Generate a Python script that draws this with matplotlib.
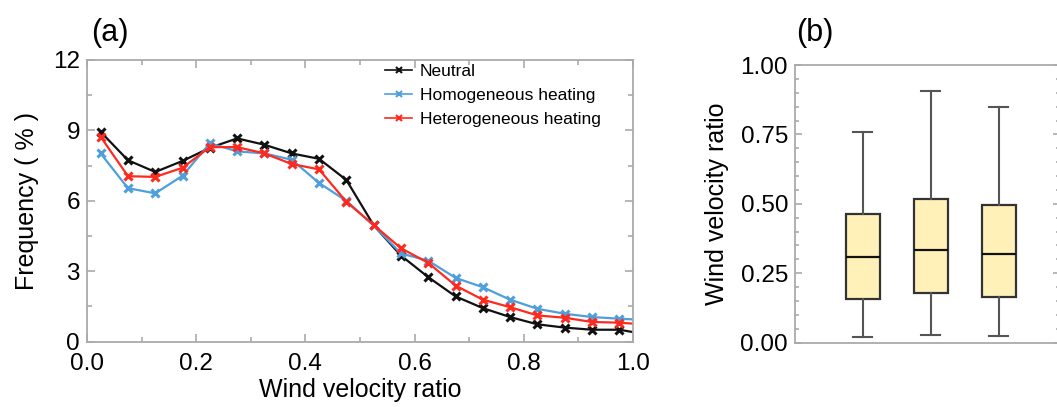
import matplotlib
matplotlib.use("Agg")
import matplotlib.pyplot as plt
from matplotlib.ticker import MultipleLocator, FixedLocator

plt.rcParams['font.family'] = ['Liberation Sans', 'DejaVu Sans']

# Frequency distribution of wind velocity ratio (bin centres, 0.05 wide)
ratio_bins = [0.025, 0.075, 0.125, 0.175, 0.225, 0.275, 0.325, 0.375, 0.425, 0.475,
              0.525, 0.575, 0.625, 0.675, 0.725, 0.775, 0.825, 0.875, 0.925, 0.975, 1.025]
neutral = [8.94, 7.73, 7.23, 7.70, 8.26, 8.66, 8.39, 8.02, 7.79, 6.89,
           4.96, 3.67, 2.75, 1.93, 1.43, 1.05, 0.74, 0.60, 0.51, 0.51, 0.31]
homogeneous = [8.02, 6.54, 6.32, 7.07, 8.45, 8.11, 8.02, 7.75, 6.76, 6.00,
               4.95, 3.76, 3.45, 2.72, 2.32, 1.79, 1.40, 1.19, 1.05, 0.98, 0.92]
heterogeneous = [8.73, 7.05, 7.02, 7.41, 8.29, 8.29, 8.02, 7.57, 7.34, 5.96,
                 4.97, 3.98, 3.36, 2.39, 1.79, 1.47, 1.12, 1.02, 0.84, 0.81, 0.73]
series_labels = ["Neutral", "Homogeneous heating", "Heterogeneous heating"]
series_colors = ["#111111", "#4e9fdc", "#ff2a1f"]

# Box-plot statistics of wind velocity ratio per case
box_whislo = [0.020, 0.026, 0.022]
box_q1 = [0.156, 0.179, 0.165]
box_med = [0.307, 0.333, 0.319]
box_q3 = [0.462, 0.517, 0.494]
box_whishi = [0.760, 0.906, 0.850]

W, H = 1057, 407
fig = plt.figure(figsize=(W / 100, H / 100), dpi=100)

spine_col = "#aaaaaa"
tick_fs = 17.5
label_fs = 18

# ---------------- panel (a) ----------------
ax = fig.add_axes([87 / W, 1 - 341.7 / H, (633 - 87) / W, (341.7 - 60) / H])
for vals, lab, col in zip([neutral, homogeneous, heterogeneous], series_labels, series_colors):
    ax.plot(ratio_bins, vals, color=col, lw=1.6, marker="x", ms=5.5, mew=2.2, label=lab)
ax.set_xlim(0, 1.0)
ax.set_ylim(0, 12)
ax.xaxis.set_major_locator(MultipleLocator(0.2))
ax.xaxis.set_minor_locator(MultipleLocator(0.1))
ax.yaxis.set_major_locator(MultipleLocator(3))
ax.yaxis.set_minor_locator(MultipleLocator(1.5))
ax.xaxis.set_major_formatter(matplotlib.ticker.FormatStrFormatter("%.1f"))
ax.tick_params(which="both", direction="in", top=True, right=True, color=spine_col,
               width=1.2, labelsize=tick_fs)
ax.tick_params(which="major", length=6)
ax.tick_params(which="minor", length=3.5)
ax.tick_params(axis="x", pad=8)
ax.tick_params(axis="y", pad=5)
for s in ax.spines.values():
    s.set_color(spine_col)
    s.set_linewidth(1.3)
ax.set_xlabel("Wind velocity ratio", fontsize=label_fs, labelpad=2)
ax.set_ylabel("Frequency ( % )", fontsize=label_fs, labelpad=10)
leg = ax.legend(loc="upper left", bbox_to_anchor=(0.546, 0.985), frameon=False, fontsize=12.5,
                borderpad=0, borderaxespad=0, handlelength=1.55, handletextpad=0.45,
                labelspacing=0.5, numpoints=1)
for hl in leg.legend_handles:
    hl.set_linewidth(1.2)
    hl.set_markersize(4)
    hl.set_markeredgewidth(1.5)
fig.text(110 / W, 1 - 33 / H, "(a)", fontsize=22, ha="center", va="center")

# ---------------- panel (b) ----------------
bx = fig.add_axes([795 / W, 1 - 342.5 / H, (1060 - 795) / W, (342.5 - 65) / H])
stats = []
for lo, q1, med, q3, hi in zip(box_whislo, box_q1, box_med, box_q3, box_whishi):
    stats.append(dict(whislo=lo, q1=q1, med=med, q3=q3, whishi=hi, fliers=[]))
bx.bxp(stats, positions=[1, 2, 3], widths=0.5, patch_artist=True, showfliers=False,
       boxprops=dict(facecolor="#fff1b8", edgecolor="#333333", linewidth=1.6),
       medianprops=dict(color="#111111", linewidth=1.6),
       whiskerprops=dict(color="#555555", linewidth=1.5),
       capprops=dict(color="#555555", linewidth=1.5),
       capwidths=0.28)
bx.set_xlim(0, 3.9)
bx.set_ylim(0, 1.0)
bx.yaxis.set_major_locator(MultipleLocator(0.25))
bx.yaxis.set_minor_locator(MultipleLocator(0.05))
bx.yaxis.set_major_formatter(matplotlib.ticker.FormatStrFormatter("%.2f"))
bx.xaxis.set_major_locator(FixedLocator([]))
bx.tick_params(which="both", direction="in", right=True, color=spine_col, width=1.2,
               labelsize=tick_fs)
bx.tick_params(which="major", length=5)
bx.tick_params(which="minor", length=3)
bx.tick_params(axis="y", pad=5)
for s in bx.spines.values():
    s.set_color(spine_col)
    s.set_linewidth(1.3)
bx.set_ylabel("Wind velocity ratio", fontsize=label_fs, labelpad=8)
fig.text(815 / W, 1 - 33 / H, "(b)", fontsize=22, ha="center", va="center")

fig.savefig("out.png", dpi=100)
